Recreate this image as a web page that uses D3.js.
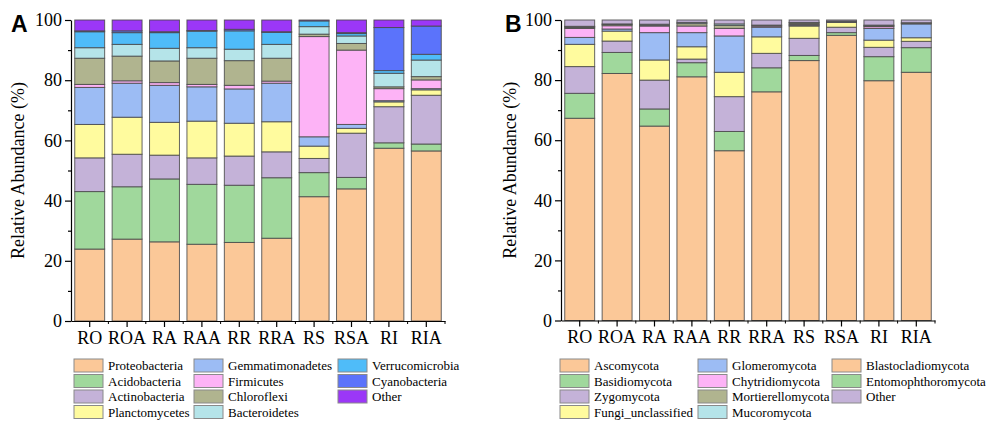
<!DOCTYPE html>
<html>
<head>
<meta charset="utf-8">
<script src="https://cdn.jsdelivr.net/npm/d3@7"></script>
<style>
  body { margin: 0; background: #fff; }
  svg text { font-family: "Times New Roman", "Liberation Serif", "DejaVu Serif", serif; }
  svg text.letter { font-family: Arial, "Liberation Sans", sans-serif; }
</style>
</head>
<body>
<svg id="chart" width="989" height="425"></svg>
<script>
//------ Données ------
const samples = ["RO", "ROA", "RA", "RAA", "RR", "RRA", "RS", "RSA", "RI", "RIA"]
const yTicks = [0, 20, 40, 60, 80, 100]

// A - bactéries (%)
const proteobacteria   = [23.9, 27.2, 26.3, 25.5, 26.1, 27.5, 41.3, 43.9, 57.4, 56.5]
const acidobacteria    = [19.1, 17.4, 20.9, 19.9, 19.0, 20.1,  8.0,  3.8,  1.8,  2.3]
const actinobacteria   = [11.2, 10.8,  7.9,  8.8,  9.7,  8.6,  4.7, 14.7, 12.0, 16.2]
const planctomycetes   = [11.1, 12.3, 10.9, 12.2, 10.9, 10.0,  4.1,  1.6,  1.6,  1.8]
const gemmatimonadetes = [12.3, 11.3, 12.3, 11.4, 11.4, 12.8,  3.1,  1.3,  0.4,  0.4]
const firmicutes       = [ 1.0,  0.8,  0.9,  0.8,  1.2,  0.7, 33.3, 24.7,  4.0,  2.9]
const chloroflexi      = [ 8.7,  8.2,  7.2,  8.7,  8.2,  7.6,  0.8,  2.2,  0.6,  1.1]
const bacteroidetes    = [ 3.5,  3.9,  4.2,  3.5,  3.8,  4.6,  2.5,  2.5,  4.5,  5.5]
const verrucomicrobia  = [ 5.3,  3.9,  5.2,  5.5,  6.1,  4.0,  1.9,  0.8,  0.9,  1.9]
const cyanobacteria    = [ 0.3,  0.6,  0.3,  0.2,  0.5,  0.2,  0.0,  0.3, 14.3,  9.4]
const otherBact        = [ 3.6,  3.6,  3.9,  3.5,  3.1,  3.9,  0.3,  4.2,  2.5,  2.0]

// B - champignons (%)
const ascomycota          = [67.3, 82.2, 64.7, 81.1, 56.5, 76.1, 86.5, 94.9, 79.8, 82.6]
const basidiomycota       = [ 8.3,  7.0,  5.7,  4.7,  6.4,  8.0,  1.7,  0.9,  8.0,  8.2]
const zygomycota          = [ 8.9,  3.8,  9.6,  1.2, 11.6,  4.8,  5.7,  1.8,  3.1,  2.1]
const fungiUnclassified   = [ 7.4,  3.3,  6.7,  4.1,  8.1,  5.5,  4.1,  1.6,  2.4,  1.2]
const glomeromycota       = [ 2.3,  0.7,  9.1,  4.7, 12.1,  3.2,  0.3,  0.1,  3.9,  4.6]
const chytridiomycota     = [ 3.0,  1.1,  2.2,  2.2,  2.5,  0.4,  0.3,  0.1,  0.6,  0.2]
const mortierellomycota   = [ 0.3,  0.4,  0.3,  0.8,  1.0,  0.3,  0.4,  0.1,  0.3,  0.2]
const mucoromycota        = [ 0.3,  0.2,  0.3,  0.4,  0.5,  0.0,  0.2,  0.1,  0.2,  0.0]
const blastocladiomycota  = [ 0.1,  0.0,  0.0,  0.0,  0.0,  0.0,  0.0,  0.0,  0.0,  0.0]
const entomophthoromycota = [ 0.0,  0.0,  0.0,  0.0,  0.0,  0.0,  0.0,  0.0,  0.0,  0.0]
const otherFungi          = [ 2.1,  1.3,  1.4,  0.8,  1.3,  1.7,  0.8,  0.4,  1.7,  0.9]

const bactNames = ["Proteobacteria", "Acidobacteria", "Actinobacteria", "Planctomycetes",
  "Gemmatimonadetes", "Firmicutes", "Chloroflexi", "Bacteroidetes", "Verrucomicrobia",
  "Cyanobacteria", "Other"]
const bactSeries = [proteobacteria, acidobacteria, actinobacteria, planctomycetes,
  gemmatimonadetes, firmicutes, chloroflexi, bacteroidetes, verrucomicrobia,
  cyanobacteria, otherBact]
const bactColors = ["#fbc898", "#a0d89c", "#c4b2d8", "#fffb9e", "#9cbcf4", "#fdb3f6",
  "#b0b48f", "#b5e4e9", "#4fbcf9", "#5b73fb", "#9b37f7"]

const fungiNames = ["Ascomycota", "Basidiomycota", "Zygomycota", "Fungi_unclassified",
  "Glomeromycota", "Chytridiomycota", "Mortierellomycota", "Mucoromycota",
  "Blastocladiomycota", "Entomophthoromycota", "Other"]
const fungiSeries = [ascomycota, basidiomycota, zygomycota, fungiUnclassified,
  glomeromycota, chytridiomycota, mortierellomycota, mucoromycota,
  blastocladiomycota, entomophthoromycota, otherFungi]
const fungiColors = ["#fbc898", "#a0d89c", "#c4b2d8", "#fffb9e", "#9cbcf4", "#fdb3f6",
  "#b0b48f", "#b5e4e9", "#fbc898", "#a0d89c", "#c4b2d8"]

const svg = d3.select("#chart")

//------ Dessin d'un panneau ------
function drawPanel(p) {
  const g = svg.append("g")

  // table pour d3.stack
  const keys = p.names.map((n, i) => "k" + i)
  const table = samples.map((s, j) => {
    const row = { sample: s }
    p.series.forEach((arr, i) => { row[keys[i]] = arr[j] })
    return row
  })
  const stacked = d3.stack().keys(keys)(table)

  const x = d3.scaleBand().domain(samples).range([p.x0, p.x1]).paddingInner(0.2).paddingOuter(0.1)
  const y = d3.scaleLinear().domain([0, 100]).range([p.y0, p.y1])

  // barres
  g.selectAll("g.layer")
    .data(stacked)
    .enter()
    .append("g")
    .attr("class", "layer")
    .attr("fill", (d, i) => p.colors[i])
    .selectAll("rect")
    .data(d => d)
    .enter()
    .append("rect")
    .attr("x", d => x(d.data.sample))
    .attr("width", x.bandwidth())
    .attr("y", d => y(d[1]))
    .attr("height", d => Math.max(0, y(d[0]) - y(d[1])))
    .attr("stroke", "#4a4a4a")
    .attr("stroke-width", 1)
    .attr("stroke-opacity", 0.85)

  // axe y
  const yAxis = g.append("g")
    .attr("transform", `translate(${p.x0},0)`)
    .call(d3.axisLeft(y).tickValues(yTicks).tickSize(6).tickPadding(3).tickSizeOuter(0))
  yAxis.attr("font-family", null)
  yAxis.selectAll("text").attr("font-size", 18).attr("fill", "#000")
  g.append("g")
    .attr("transform", `translate(${p.x0},0)`)
    .call(d3.axisLeft(y).tickValues([10, 30, 50, 70, 90]).tickSize(3).tickFormat("").tickSizeOuter(0))
    .select(".domain").remove()

  // axe x
  const xAxis = g.append("g")
    .attr("transform", `translate(0,${p.y0})`)
    .call(d3.axisBottom(x).tickSize(6).tickPadding(4).tickSizeOuter(0))
  xAxis.attr("font-family", null)
  xAxis.selectAll("text").attr("font-size", 18).attr("fill", "#000")
  // petites graduations entre les barres
  g.append("g")
    .attr("transform", `translate(0,${p.y0})`)
    .selectAll("line")
    .data(samples.slice(1).concat(["__end"]))
    .enter()
    .append("line")
    .attr("x1", (d, i) => i < samples.length - 1 ? x(d) - x.step() * 0.1 : p.x1)
    .attr("x2", (d, i) => i < samples.length - 1 ? x(d) - x.step() * 0.1 : p.x1)
    .attr("y1", 0).attr("y2", 3)
    .attr("stroke", "#000")

  g.selectAll(".domain, .tick line").attr("stroke", "#000").attr("stroke-width", 1.2)

  // titre axe y
  g.append("text")
    .attr("transform", `translate(${p.titleX},${(p.y0 + p.y1) / 2}) rotate(-90)`)
    .attr("text-anchor", "middle")
    .attr("dominant-baseline", "middle")
    .attr("font-size", 18)
    .text("Relative Abundance (%)")

  // lettre du panneau
  g.append("text")
    .attr("class", "letter")
    .attr("x", p.letterX).attr("y", 32)
    .attr("font-weight", "bold")
    .attr("font-size", 23)
    .text(p.letter)

  // légende (3 colonnes, 4 lignes)
  const leg = g.selectAll("g.leg")
    .data(p.names)
    .enter()
    .append("g")
    .attr("class", "leg")
    .attr("transform", (d, i) => `translate(${p.legCols[Math.floor(i / 4)]},${359 + (i % 4) * 15.5})`)
  leg.append("rect")
    .attr("width", 29).attr("height", 13)
    .attr("fill", (d, i) => p.colors[i])
    .attr("stroke", "#8a8a8a").attr("stroke-width", 1)
  leg.append("text")
    .attr("x", 34).attr("y", 11)
    .attr("font-size", 13)
    .text(d => d)
}

drawPanel({
  letter: "A", letterX: 11, titleX: 20,
  x0: 71, x1: 445, y0: 321, y1: 20,
  names: bactNames, series: bactSeries, colors: bactColors,
  legCols: [74, 194, 338]
})

drawPanel({
  letter: "B", letterX: 505, titleX: 512,
  x0: 561, x1: 935, y0: 320.5, y1: 20,
  names: fungiNames, series: fungiSeries, colors: fungiColors,
  legCols: [560, 698, 832]
})
</script>
</body>
</html>
